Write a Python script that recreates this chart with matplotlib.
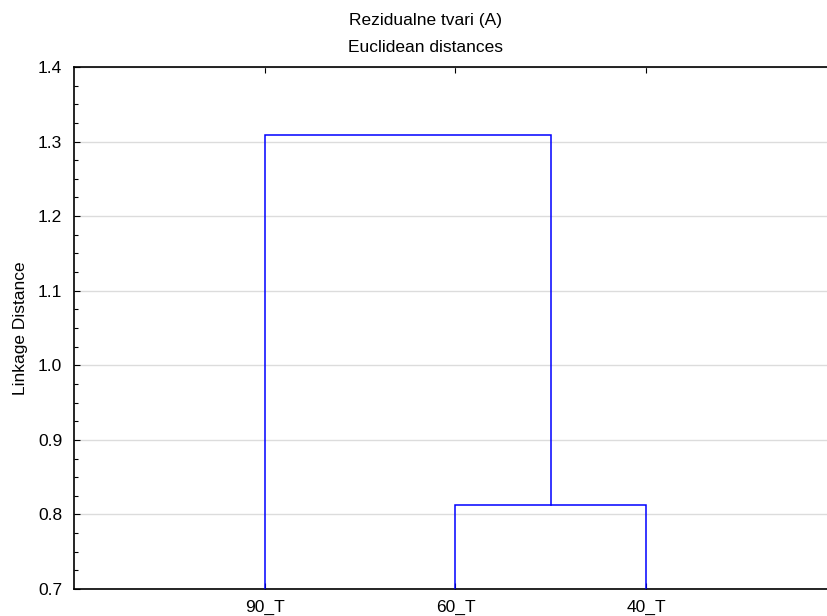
import matplotlib
matplotlib.use("Agg")
import matplotlib.pyplot as plt
from matplotlib.ticker import MultipleLocator

plt.rcParams['font.family'] = ['Liberation Sans', 'DejaVu Sans']

leaves = ["90_T", "60_T", "40_T"]
merge_heights = [0.8125, 1.3085]  # (60_T,40_T), then (90_T, cluster)
base = 0.7
title1 = "Rezidualne tvari (A)"
title2 = "Euclidean distances"
ylabel = "Linkage Distance"

fs = 12.5
fig = plt.figure(figsize=(8.28, 6.16), dpi=100)
ax = fig.add_axes([74/828, 1-589/616, (837-74)/828, (589-67)/616])

x = {name: i + 1 for i, name in enumerate(leaves)}
col = "#0000ff"
lw = 1.1
h1 = merge_heights[0]
x60, x40 = x["60_T"], x["40_T"]
ax.plot([x60, x60, x40, x40], [base, h1, h1, base], color=col, lw=lw, solid_joinstyle='miter', zorder=3)
mid = (x60 + x40) / 2
h2 = merge_heights[1]
x90 = x["90_T"]
ax.plot([x90, x90, mid, mid], [base, h2, h2, h1], color=col, lw=lw, solid_joinstyle='miter', zorder=3)

ax.set_xlim(0, len(leaves) + 1)
ax.set_ylim(0.7, 1.4)
ax.set_xticks(range(1, len(leaves) + 1))
ax.set_xticklabels(leaves, fontsize=fs)
ax.yaxis.set_major_locator(MultipleLocator(0.1))
ax.yaxis.set_minor_locator(MultipleLocator(0.025))
ax.set_yticks([0.7 + 0.1 * i for i in range(8)])
ax.set_yticklabels([f"{0.7 + 0.1 * i:.1f}" for i in range(8)], fontsize=fs)
ax.tick_params(axis='y', which='major', direction='in', length=4, width=0.8, pad=8.5)
ax.tick_params(axis='y', which='minor', direction='in', length=3, width=0.8)
ax.tick_params(axis='x', which='major', direction='in', length=4, width=0.8, top=True, pad=8)
ax.grid(axis='y', which='major', color='#dcdcdc', lw=1.0, zorder=0)
ax.set_axisbelow(True)
for s in ['left', 'bottom', 'top']:
    ax.spines[s].set_linewidth(1.2)
ax.spines['right'].set_visible(False)

fig.text(21/828, 1 - 328/616, ylabel, rotation=90, ha='center', va='center', fontsize=fs)
fig.text(426/828, 1 - 20/616, title1, ha='center', va='center', fontsize=fs)
fig.text(426/828, 1 - 47/616, title2, ha='center', va='center', fontsize=fs)

fig.savefig("out.png", dpi=100)
